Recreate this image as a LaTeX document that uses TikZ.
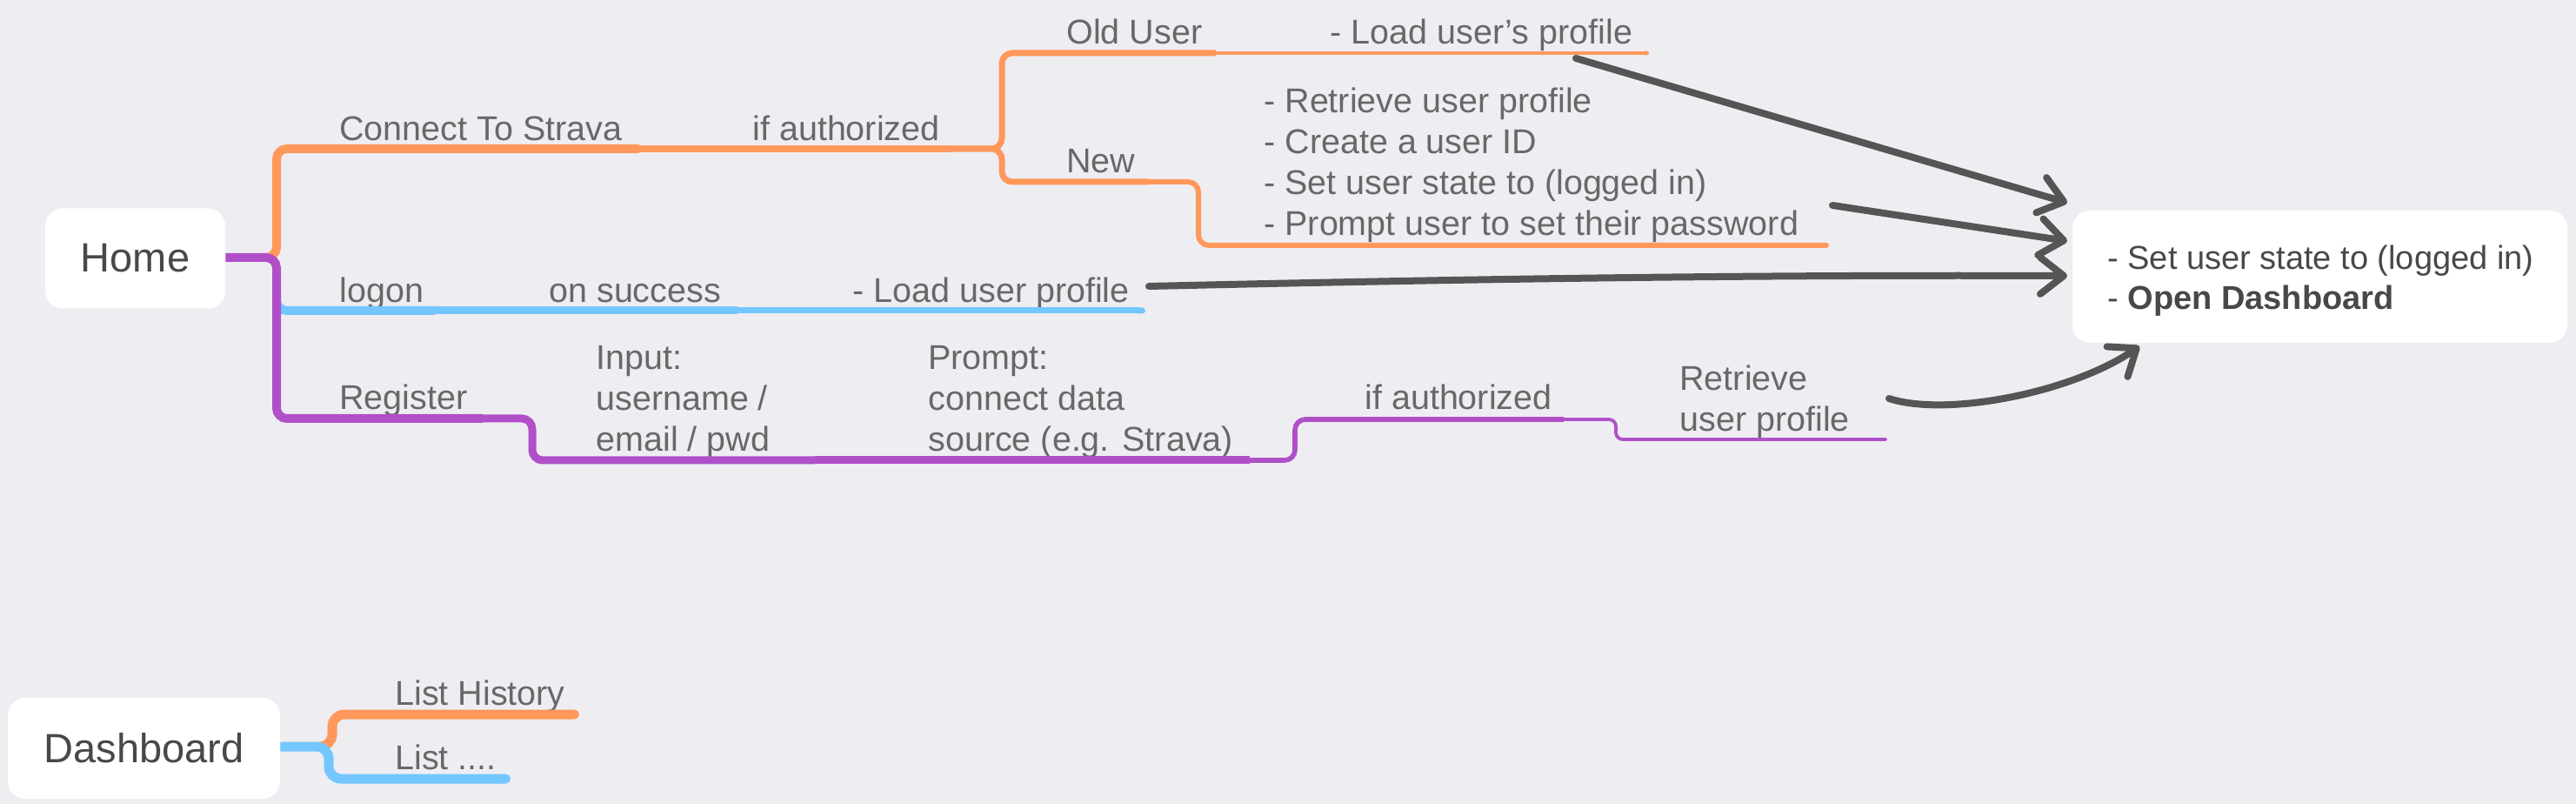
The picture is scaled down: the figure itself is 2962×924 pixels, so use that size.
\documentclass[tikz,border=0pt]{standalone}
\usepackage{fontspec}
\setmainfont{Liberation Sans}
\usetikzlibrary{arrows.meta,calc}
\definecolor{bg}{RGB}{238,237,242}
\definecolor{cOr}{RGB}{255,152,90}
\definecolor{cBl}{RGB}{116,198,255}
\definecolor{cPu}{RGB}{176,80,200}
\definecolor{cAr}{RGB}{85,85,85}
\definecolor{cTx}{RGB}{104,104,104}
\definecolor{cDk}{RGB}{72,72,72}
\begin{document}
\begin{tikzpicture}[x=0.5pt,y=-0.5pt,
  lbl/.style={font=\fontsize{19.75pt}{23.5pt}\selectfont, text=cTx, inner sep=0pt, anchor=base west, align=left},
  root/.style={fill=white, rounded corners=10pt, font=\fontsize{23.5pt}{28pt}\selectfont, text=cDk, inner sep=0pt},
  arr/.style={draw=cAr, line width=4pt, line cap=round, -{Straight Barb[length=13.5pt,width=21pt,round]}}]
\fill[bg] (0,0) rectangle (2962,924);
\useasboundingbox (0,0) rectangle (2962,924);
% boxes
\node[root, minimum width=103.5pt, minimum height=57.5pt] (home) at (155.5,297) {Home};
\node[root, minimum width=156.5pt, minimum height=58pt] (dash) at (165.5,860) {Dashboard};
\node[root, minimum width=284.5pt, minimum height=76pt] (res) at (2667.5,318) {};
\node[lbl, font=\fontsize{19pt}{23pt}\selectfont, text=cDk] (restxt) at (2423,356) {- Set user state to (logged in)\\- \textbf{Open Dashboard}};
% labels (multi-line labels are placed at the baseline of their last line)
\node[lbl] (cts) at (390,162) {Connect To Strava};
\node[lbl] (ifa1) at (865,162) {if authorized};
\node[lbl] (old) at (1226,51) {Old User};
\node[lbl] (lup) at (1529,51) {- Load user’s profile};
\node[lbl] (new) at (1226,199) {New};
\node[lbl] (steps) at (1453,271) {- Retrieve user profile\\- Create a user ID\\- Set user state to (logged in)\\- Prompt user to set their password};
\node[lbl] (logon) at (390,348) {logon};
\node[lbl] (onsucc) at (631,348) {on success};
\node[lbl] (load) at (980,348) {- Load user profile};
\node[lbl] (reg) at (390,471) {Register};
\node[lbl] (inp) at (685,519) {Input:\\username /\\email / pwd};
\node[lbl] (prm) at (1067,519) {Prompt:\\connect data\\source (e.g. Strava)};
\node[lbl] (ifa2) at (1569,471) {if authorized};
\node[lbl] (ret) at (1931,496) {Retrieve\\user profile};
\node[lbl] (lh) at (454,810) {List History};
\node[lbl] (ll) at (454,884) {List ....};
% branch points
\coordinate (j0) at (318,296);
\coordinate (o1) at (735,171);
\coordinate (o2) at (1094,171);
\coordinate (ou1) at (1398,61);
\coordinate (ou2) at (1896,61);
\coordinate (n1) at (1321,209);
\coordinate (n2) at (2103,282);
\coordinate (b1) at (500,357);
\coordinate (b2) at (848,357);
\coordinate (b3) at (1317,357);
\coordinate (p1) at (555,481);
\coordinate (p2) at (937,529);
\coordinate (p3) at (1437,529);
\coordinate (p4) at (1798,482);
\coordinate (p5) at (2170,505);
\coordinate (dl1) at (666,821);
\coordinate (dl2) at (587,895);
% orange branch
\draw[cOr, line width=5pt, rounded corners=6pt] ($(j0)+(-12,0)$) -| (j0 |- o1) -- (o1);
\draw[cOr, line width=4pt] (o1) -- (o2);
\draw[cOr, line width=3.5pt, rounded corners=6pt] (o2) -| (1152,61) -- (ou1);
\draw[cOr, line width=3.5pt, rounded corners=6pt] (o2) -| (1152,209) -- (n1);
\draw[cOr, line width=2.3pt, -{Round Cap[]}] (ou1) -- (ou2);
\draw[cOr, line width=3pt, rounded corners=6pt, -{Round Cap[]}] (n1) -| (1378,282) -- (n2);
% blue branch
\draw[cBl, line width=5pt, rounded corners=6pt] (318,335) |- (b1);
\draw[cBl, line width=4.5pt] (b1) -- (b2);
\draw[cBl, line width=3.5pt, -{Round Cap[]}] (b2) -- (b3);
% purple branch
\draw[cPu, line width=5pt, rounded corners=6pt] (home.east |- j0) -| (j0 |- p1) -- (p1);
\draw[cPu, line width=4.5pt, rounded corners=6pt] (p1) -| (612,529) -- (p2);
\draw[cPu, line width=4.5pt] (p2) -- (p3);
\draw[cPu, line width=2.8pt, rounded corners=6pt] (p3) -| (1489,482) -- (p4);
\draw[cPu, line width=1.9pt, rounded corners=4pt, -{Round Cap[]}] (p4) -| (1858,505) -- (p5);
% dashboard branches
\draw[cOr, line width=5.5pt, rounded corners=7pt, -{Round Cap[]}] ($(dash.east)+(48,-2)$) -| (382,821) -- (dl1);
\draw[cBl, line width=5.5pt, rounded corners=7pt, -{Round Cap[]}] ($(dash.east)+(0,-2)$) -| (378,895) -- (dl2);
% arrows
\coordinate (s1) at (1812,67);
\coordinate (s2) at (2107,236);
\coordinate (s3) at (1321,329);
\coordinate (s4) at (2172,458);
\coordinate (t1) at (2377,233);
\coordinate (t2) at (2377,277);
\coordinate (t3) at (2377,317);
\coordinate (t4) at (2460,398);
\draw[arr] (s1) -- (t1);
\draw[arr] (s2) -- (t2);
\draw[arr] (s3) .. controls (1800,318) and (2100,316) .. (t3);
\draw[arr] (s4) .. controls (2240,480) and (2385,450) .. (t4);
\end{tikzpicture}
\end{document}
